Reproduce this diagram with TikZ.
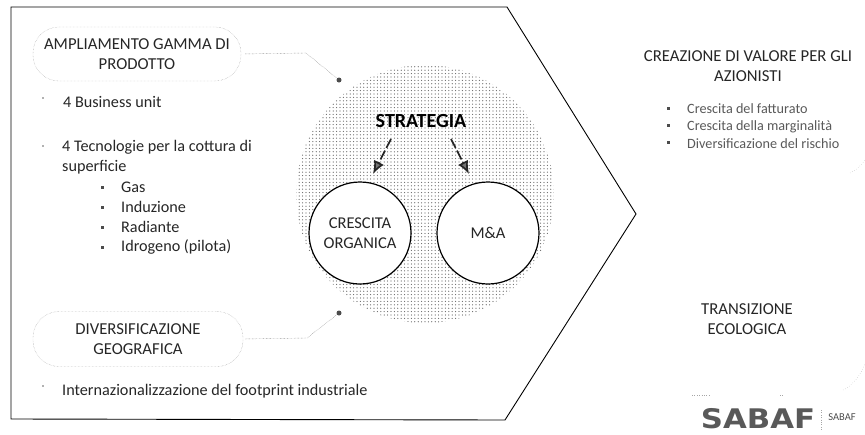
\documentclass[tikz,border=0pt]{standalone}
\usepackage{graphicx}
\usepackage{fontspec}
\setmainfont{Carlito}
\newfontfamily\logofont{DejaVu Sans}
\usetikzlibrary{arrows.meta, patterns, positioning}
\definecolor{inkText}{gray}{0.15}
\pgfdeclarepatternformonly{discDots}{\pgfqpoint{-1pt}{-1pt}}{\pgfqpoint{1pt}{1pt}}{\pgfqpoint{3.4pt}{3.4pt}}{
    \pgfpathcircle{\pgfqpoint{0pt}{0pt}}{0.62pt}\pgfusepath{fill}
}
\tikzset{
    heading/.style={align=center, font=\fontsize{16.7}{20.5}\selectfont, text=inkText, inner sep=0pt},
    bodyText/.style={align=left, anchor=west, font=\fontsize{16.2}{20.5}\selectfont, text=inkText, inner sep=0pt},
    smallText/.style={align=left, anchor=west, font=\fontsize{14.2}{17}\selectfont, text=black!65, inner sep=0pt},
    pill/.style={draw=black!40, densely dotted, rounded corners=26pt, thin},
    ringNode/.style={circle, draw, line width=1.2pt, fill=white, minimum size=102pt, inner sep=0pt, align=center, font=\fontsize{16.5}{20}\selectfont, text=inkText},
    bulletDot/.style={rectangle, fill=black!70, inner sep=0pt, minimum size=3pt},
    tickDot/.style={rectangle, fill=black!30, inner sep=0pt, minimum size=1.5pt},
    pinDot/.style={circle, fill=black!70, inner sep=0pt, minimum size=5pt},
    strategyArrow/.style={-{Latex[length=13pt, width=11pt, fill=black!55]}, line width=1.7pt, dash pattern=on 10pt off 3pt, black!85},
    leader/.style={black!60, densely dotted, thin},
    faintTrace/.style={black!35, dotted, thin},
}
\begin{document}
\begin{tikzpicture}[x=1pt, y=-1pt]
    \useasboundingbox (0, 0) rectangle (865, 434);

    \coordinate (outA) at (11, 7);
    \coordinate (outB) at (507, 7);
    \coordinate (outC) at (636, 214);
    \coordinate (outD) at (505, 420);
    \coordinate (outE) at (11, 419);
    \draw[line width=0.9pt] (outA) -- (outB) -- (outC) -- (outD) -- (outE) -- cycle;

    % cerchio centrale
    \node[circle, minimum size=258pt, inner sep=0pt, pattern=discDots, pattern color=black!60] (bigDisc) at (425, 194) {};
    \node[ringNode] (organica) at (360, 233) {CRESCITA\\ORGANICA};
    \node[ringNode] (ma) at (488, 233) {M\&A};
    \node[font=\fontsize{20}{22}\selectfont\bfseries, inner sep=0pt] (strategia) at (421, 121) {STRATEGIA};
    \coordinate (arrowLeft) at (391, 139);
    \coordinate (arrowRight) at (451, 139);
    \coordinate (tipLeft) at (373, 174);
    \coordinate (tipRight) at (469, 174);
    \draw[strategyArrow] (arrowLeft) -- (tipLeft);
    \draw[strategyArrow] (arrowRight) -- (tipRight);

    % riquadri a sinistra
    \node[heading, minimum width=208pt, minimum height=54pt, pill] (gamma) at (137, 54) {AMPLIAMENTO GAMMA DI\\PRODOTTO};
    \node[heading, minimum width=210pt, minimum height=55pt, pill] (geo) at (138, 339) {DIVERSIFICAZIONE\\GEOGRAFICA};
    \node[pinDot] (pinGamma) at (339, 80) {};
    \node[pinDot] (pinGeo) at (339, 313) {};
    \coordinate (kneeGamma) at (306, 53);
    \coordinate (kneeGeo) at (307, 338);
    \draw[leader, shorten <=4pt] (gamma.east) -- (kneeGamma) -- (pinGamma);
    \draw[leader, shorten <=2pt] (geo.east) -- (kneeGeo) -- (pinGeo);

    % elenchi a sinistra
    \node[tickDot] (tickBusiness) at (43, 98) {};
    \node[tickDot] (tickTecno) at (43, 146) {};
    \node[tickDot] (tickFoot) at (43, 386) {};
    \node[bodyText] (business) at (63, 102) {4 Business unit};
    \node[bodyText] (tecno) at (62, 157) {4 Tecnologie per la cottura di\\superficie};
    \node[bodyText] (gas) at (121, 187) {Gas};
    \node[bodyText] (induzione) at (121, 207) {Induzione};
    \node[bodyText] (radiante) at (121, 227) {Radiante};
    \node[bodyText] (idrogeno) at (121, 247) {Idrogeno (pilota)};
    \node[bodyText] (footprint) at (62, 391) {Internazionalizzazione del footprint industriale};
    \node[bulletDot] at (102, 187) {};
    \node[bulletDot] at (102, 207) {};
    \node[bulletDot] at (102, 227) {};
    \node[bulletDot] at (102, 247) {};

    % colonna a destra
    \node[heading] (valore) at (748, 66) {CREAZIONE DI VALORE PER GLI\\AZIONISTI};
    \node[smallText] (fatturato) at (687, 109) {Crescita del fatturato};
    \node[smallText] (marginalita) at (687, 127) {Crescita della marginalità};
    \node[smallText] (rischio) at (687, 144) {Diversificazione del rischio};
    \node[bulletDot] at (668, 108) {};
    \node[bulletDot] at (668, 125) {};
    \node[bulletDot] at (668, 142) {};
    \node[heading] (transizione) at (747, 319) {TRANSIZIONE\\ECOLOGICA};

    % tracce sbiadite
    \draw[faintTrace] (850, 173) .. controls (856, 170) and (861, 166) .. (865, 160);
    \draw[faintTrace] (843, 390) .. controls (852, 386) and (860, 376) .. (865, 364);
    \draw[faintTrace] (692, 395) -- (710, 395);
    \draw[faintTrace] (780, 395) -- (783, 395);

    % logo
    \node[font=\logofont\bfseries\fontsize{27}{27}\selectfont, inner sep=0pt, text=black!65] (sabaf) at (758, 419) {\scalebox{1.14}[1]{SABAF}};
    \node[font=\fontsize{10.5}{11}\selectfont, inner sep=0pt, text=black!70] (sabafSmall) at (842, 417) {SABAF};
    \draw[faintTrace] (821, 410) -- (821, 431);
\end{tikzpicture}
\end{document}
